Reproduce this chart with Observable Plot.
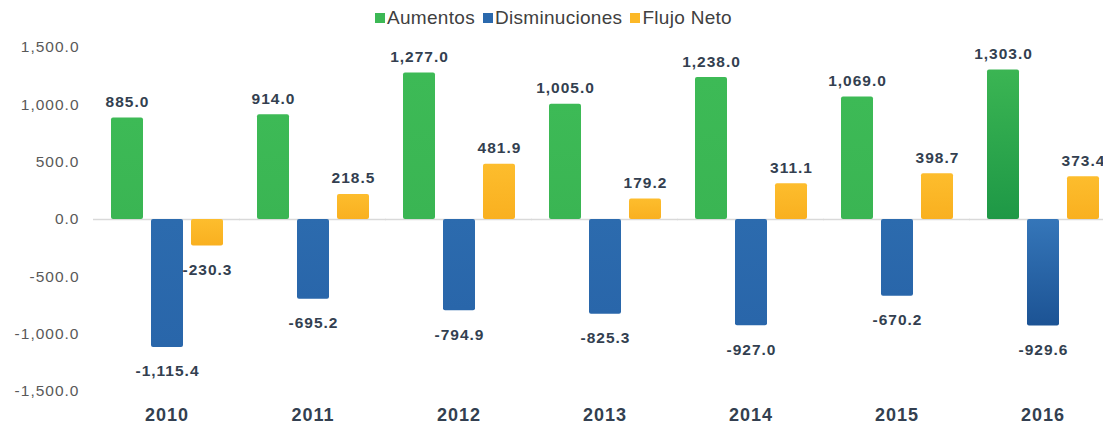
<!DOCTYPE html>
<html>
<head>
<meta charset="utf-8">
<script src="https://cdn.jsdelivr.net/npm/d3@7"></script>
<script src="https://cdn.jsdelivr.net/npm/@observablehq/plot@0.6"></script>
<style>
  body { margin: 0; background: #fff; font-family: "Liberation Sans", Arial, sans-serif; }
  #legend { height: 36px; display: flex; justify-content: center; align-items: center; gap: 8px; font-size: 19px; letter-spacing: 0.3px; color: #404040; padding-left: 4px; box-sizing: border-box; }
  #legend .item { display: flex; align-items: center; gap: 2px; }
  #legend .sw { width: 10px; height: 10px; display: inline-block; }
  svg text { letter-spacing: 1px; }
  g[aria-label^="y-axis"] text { fill: #595959; font-size: 15.5px; font-weight: normal; letter-spacing: 1px; }
  g[aria-label^="fx-axis"] text { fill: #333f50; font-size: 18px; font-weight: bold; }
</style>
</head>
<body>
<div id="legend"></div>
<div id="chart"></div>
<script>
const years = ["2010", "2011", "2012", "2013", "2014", "2015", "2016"];
const seriesNames = ["Aumentos", "Disminuciones", "Flujo Neto"];
const aumentos = [885.0, 914.0, 1277.0, 1005.0, 1238.0, 1069.0, 1303.0];
const disminuciones = [-1115.4, -695.2, -794.9, -825.3, -927.0, -670.2, -929.6];
const flujoNeto = [-230.3, 218.5, 481.9, 179.2, 311.1, 398.7, 373.4];
const yTicks = [-1500, -1000, -500, 0, 500, 1000, 1500];

const seriesValues = [aumentos, disminuciones, flujoNeto];
const rows = [];
years.forEach((year, i) => {
  seriesNames.forEach((s, j) => rows.push({year, series: s, value: seriesValues[j][i]}));
});

const baseColors = {"Aumentos": "#3cb855", "Disminuciones": "#2b69ad", "Flujo Neto": "#fcb827"};
const gradIds = {"Aumentos": "gGreen", "Disminuciones": "gBlue", "Flujo Neto": "gOrange"};
const darkIds = {"Aumentos": "gGreenDark", "Disminuciones": "gBlueDark", "Flujo Neto": "gOrange"};
const fillOf = d => d.year === "2016" ? `url(#${darkIds[d.series]})` : `url(#${gradIds[d.series]})`;

// legend
const legend = d3.select("#legend");
seriesNames.forEach(s => {
  const it = legend.append("span").attr("class", "item");
  it.append("span").attr("class", "sw").style("background", baseColors[s]);
  it.append("span").text(s);
});

const fmt0 = d3.format(",.1f");
const fmt = v => fmt0(v).replace("\u2212", "-");
const W = 1103, H = 389;

const plot = Plot.plot({
  width: W,
  height: H,
  marginLeft: 101,
  marginRight: -5,
  marginTop: 11,
  marginBottom: 34,
  style: {fontFamily: "'Liberation Sans', Arial, sans-serif", background: "white", overflow: "hidden"},
  fx: {domain: years, paddingInner: 0.114, paddingOuter: 0, label: null, tickSize: 0, tickPadding: 17, axis: "bottom"},
  x: {domain: seriesNames, padding: 0.2, axis: null},
  y: {domain: [-1500, 1500], ticks: yTicks, tickFormat: d => fmt(d), tickSize: 0, tickPadding: 23, label: null},
  color: {type: "identity"},
  facet: {data: rows, x: "year"},
  marks: [
    Plot.ruleY([0], {stroke: "#d9d9d9", strokeWidth: 1.5, insetLeft: -9, insetRight: -9, facet: false}),
    Plot.barY(rows, {x: "series", y: "value", fill: fillOf, rx: 2}),
    Plot.text(rows, {filter: d => d.value >= 0, x: "series", y: "value", text: d => fmt(d.value), dy: -16, fill: "#333f50", fontWeight: "bold", fontSize: 15.5}),
    Plot.text(rows, {filter: d => d.value < 0, x: "series", y: "value", text: d => fmt(d.value), dy: 24, fill: "#333f50", fontWeight: "bold", fontSize: 15.5})
  ]
});

// gradient definitions
const svg = d3.select(plot.tagName.toLowerCase() === "svg" ? plot : plot.querySelector("svg"));
const defs = svg.insert("defs", ":first-child");
function grad(id, top, bottom) {
  const g = defs.append("linearGradient").attr("id", id).attr("x1", 0).attr("y1", 0).attr("x2", 0).attr("y2", 1);
  g.append("stop").attr("offset", "0%").attr("stop-color", top);
  g.append("stop").attr("offset", "100%").attr("stop-color", bottom);
}
grad("gGreen", "#3dba56", "#3ab553");
grad("gBlue", "#2c6bae", "#2966aa");
grad("gOrange", "#fdbd2d", "#f9b020");
grad("gGreenDark", "#3bb553", "#1e9846");
grad("gBlueDark", "#3576b9", "#1c5394");

document.getElementById("chart").appendChild(plot);
</script>
</body>
</html>
